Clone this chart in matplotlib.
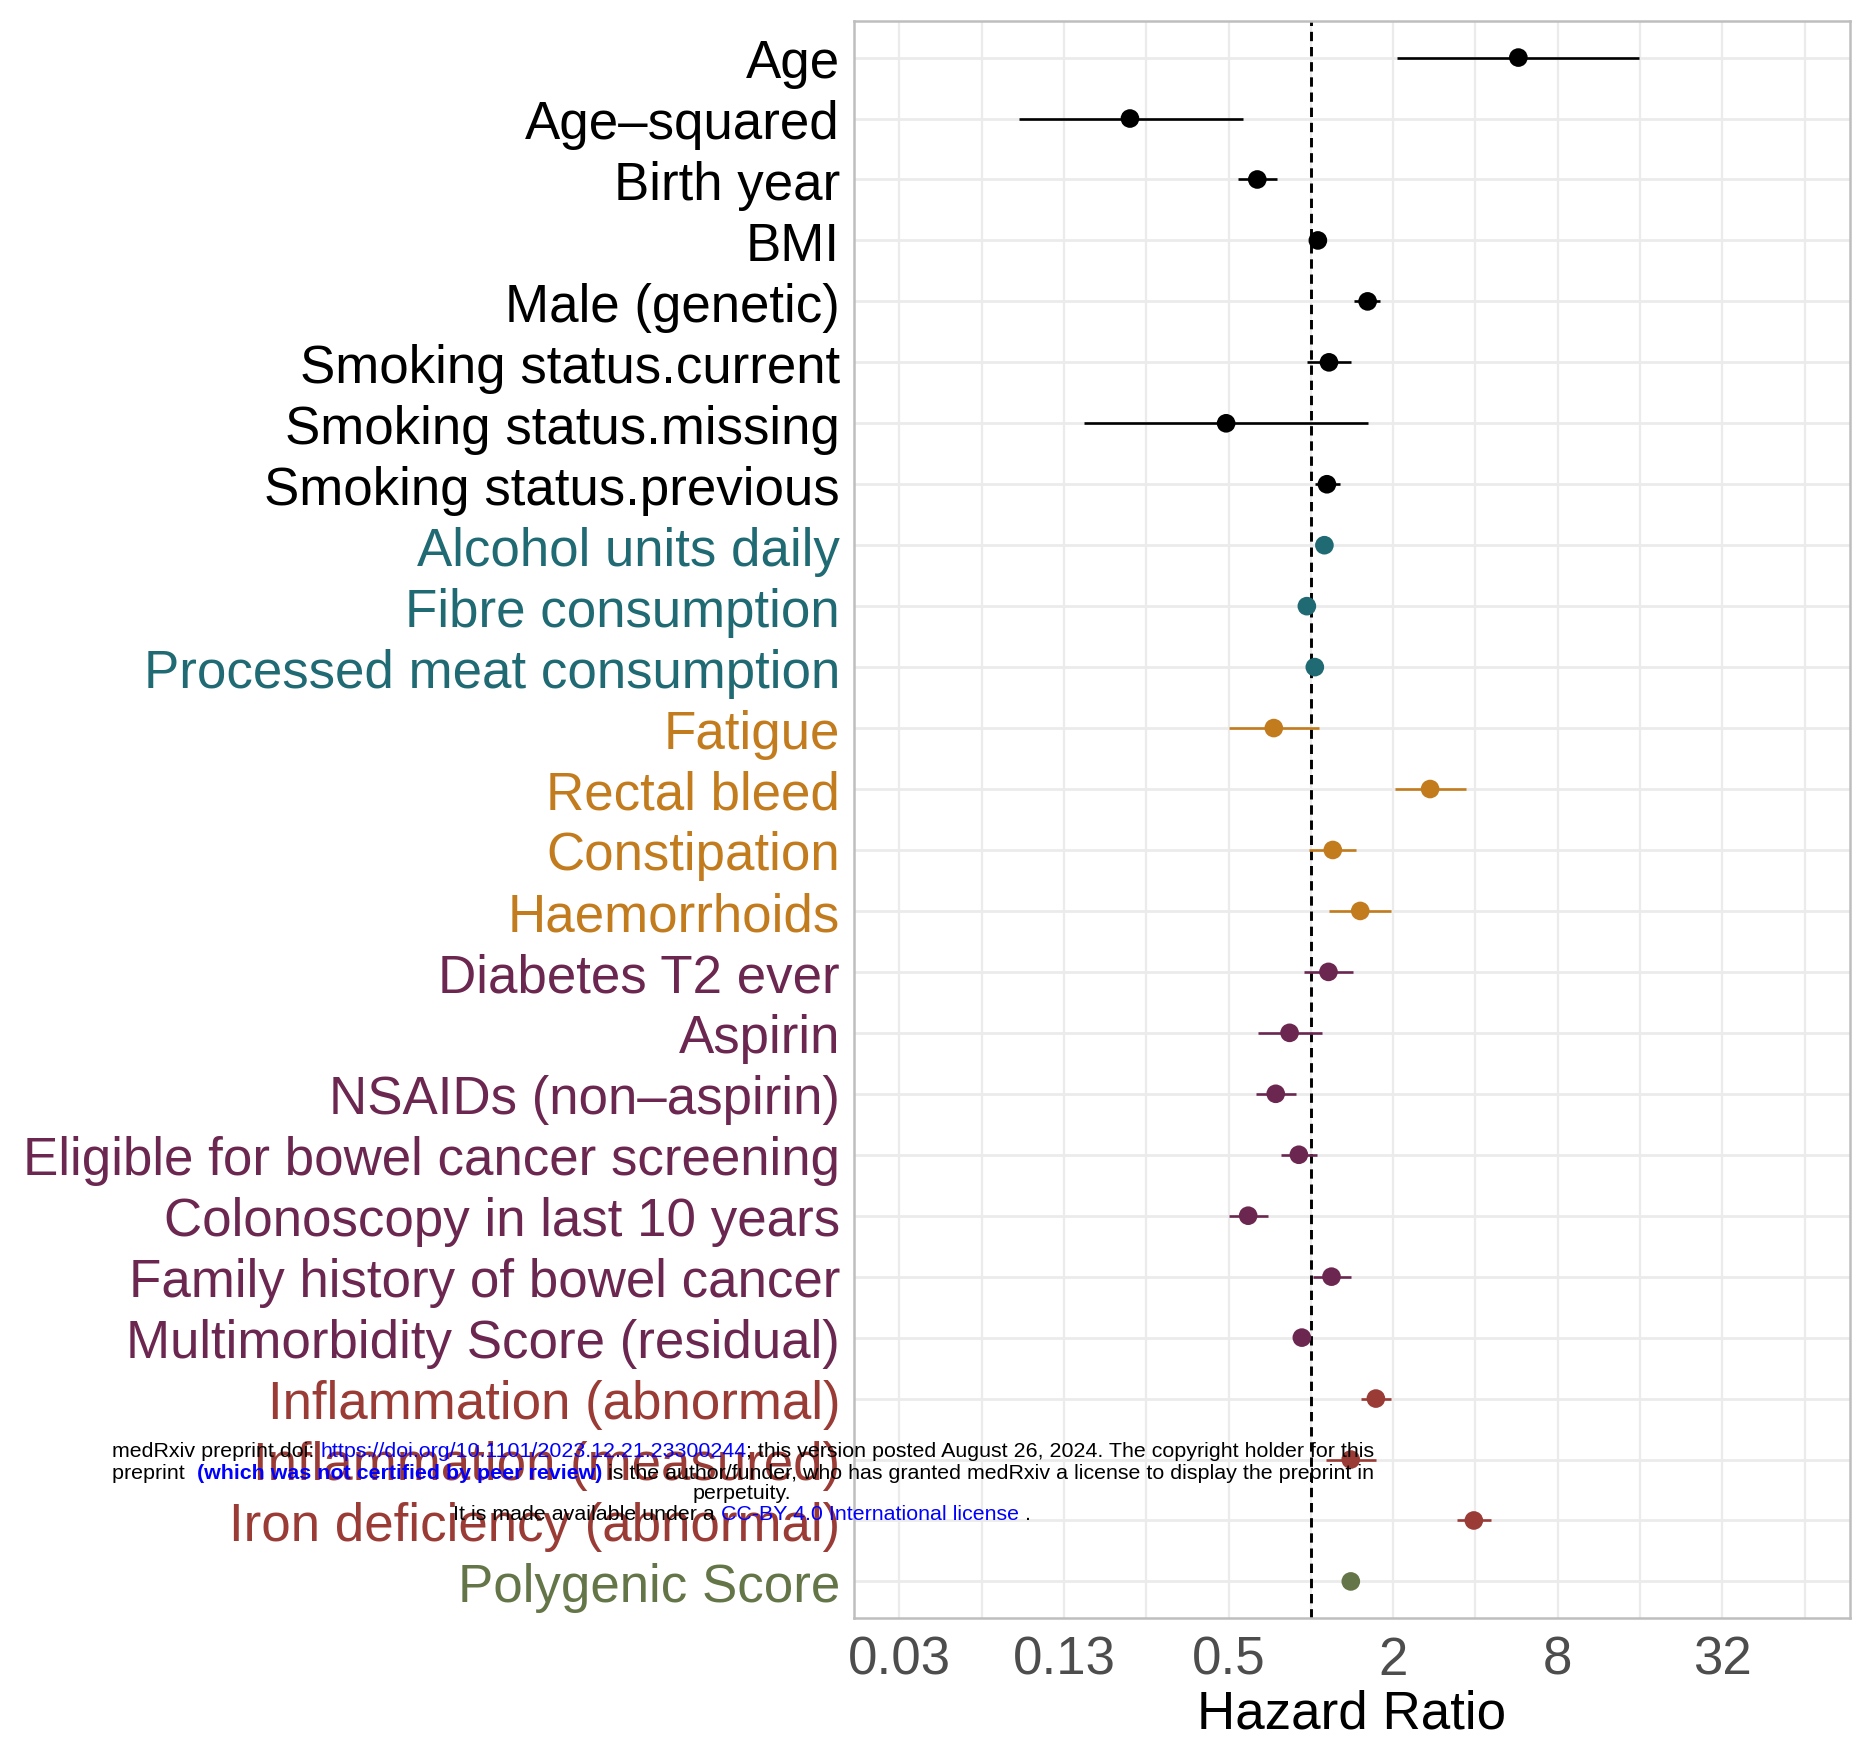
import numpy as np
import matplotlib.pyplot as plt

plt.rcParams['font.family'] = ['Liberation Sans', 'DejaVu Sans']

# covariates, top to bottom
labels = ['Age', 'Age\u2013squared', 'Birth year', 'BMI', 'Male (genetic)',
          'Smoking status.current', 'Smoking status.missing', 'Smoking status.previous',
          'Alcohol units daily', 'Fibre consumption', 'Processed meat consumption',
          'Fatigue', 'Rectal bleed', 'Constipation', 'Haemorrhoids',
          'Diabetes T2 ever', 'Aspirin', 'NSAIDs (non\u2013aspirin)',
          'Eligible for bowel cancer screening', 'Colonoscopy in last 10 years',
          'Family history of bowel cancer', 'Multimorbidity Score (residual)',
          'Inflammation (abnormal)', 'Inflammation (measured)', 'Iron deficiency (abnormal)',
          'Polygenic Score']

hr = [5.74, 0.218, 0.637, 1.061, 1.613, 1.165, 0.49, 1.145,
      1.121, 0.967, 1.034,
      0.732, 2.73, 1.203, 1.516,
      1.16, 0.836, 0.744, 0.904, 0.59, 1.19, 0.927,
      1.729, 1.399, 3.945,
      1.40]
hr_lo = [2.07, 0.0854, 0.543, 1.04, 1.434, 0.966, 0.148, 1.035,
         1.10, 0.95, 1.015,
         0.50, 2.03, 0.986, 1.17,
         0.946, 0.639, 0.631, 0.775, 0.503, 1.017, 0.915,
         1.529, 1.133, 3.42,
         1.38]
hr_hi = [15.9, 0.563, 0.753, 1.08, 1.79, 1.404, 1.625, 1.283,
         1.14, 0.985, 1.05,
         1.067, 3.68, 1.466, 1.967,
         1.422, 1.10, 0.88, 1.052, 0.695, 1.399, 0.94,
         1.956, 1.734, 4.56,
         1.42]

groups = ['base'] * 8 + ['diet'] * 3 + ['symptom'] * 4 + ['clinical'] * 7 + ['blood'] * 3 + ['genetic']
group_colours = {'base': '#000000', 'diet': '#206A74', 'symptom': '#C27C1E',
                 'clinical': '#6B2750', 'blood': '#9A3B36', 'genetic': '#647548'}

x_breaks = [2.0 ** k for k in (-5, -3, -1, 1, 3, 5)]
x_break_labels = ['0.03', '0.13', '0.5', '2', '8', '32']
x_minor = [2.0 ** k for k in (-4, -2, 0, 2, 4, 6)]

W, H, DPI = 1853, 1740, 100
fig = plt.figure(figsize=(W / DPI, H / DPI), dpi=DPI)
ax = fig.add_axes([854 / W, 1 - 1619 / H, (1850 - 854) / W, (1619 - 22) / H])

y = np.arange(len(labels))
cols = [group_colours[g] for g in groups]

ax.set_xscale('log', base=2)
ax.set_xlim(2 ** -5.55, 2 ** 6.55)
ax.set_ylim(len(labels) - 1 + 0.6, -0.6)

ax.set_axisbelow(True)
ax.set_xticks(x_breaks)
ax.set_xticklabels(x_break_labels)
ax.set_xticks(x_minor, minor=True)
ax.set_xticklabels([], minor=True)
ax.set_yticks(y)
ax.set_yticklabels(labels)
ax.grid(which='both', axis='x', color='#EBEBEB', lw=1.6)
ax.grid(which='major', axis='y', color='#EBEBEB', lw=2.0)
ax.tick_params(which='both', length=0)
ax.tick_params(axis='y', labelsize=38.1, pad=10)
ax.tick_params(axis='x', labelsize=38.1, labelcolor='#4D4D4D', pad=12)
for lab, c in zip(ax.get_yticklabels(), cols):
    lab.set_color(c)
for sp in ax.spines.values():
    sp.set_color('#BEBEBE')
    sp.set_linewidth(1.8)

ax.axvline(1, color='black', lw=2.1, ls=(0, (3.2, 2.0)), zorder=2)
ax.hlines(y, hr_lo, hr_hi, colors=cols, lw=1.9, zorder=3)
ax.scatter(hr, y, s=180, c=cols, zorder=4, linewidths=0)
ax.set_xlabel('Hazard Ratio', fontsize=38.1, labelpad=3)

# medRxiv watermark overlay
renderer = fig.canvas.get_renderer()
WM_SIZE = 15.4


def text_width(s, weight='normal'):
    t = fig.text(0, 0, s + '|', fontsize=WM_SIZE, weight=weight)
    b = fig.text(0, 0, '|', fontsize=WM_SIZE, weight=weight)
    w = t.get_window_extent(renderer).width - b.get_window_extent(renderer).width
    t.remove()
    b.remove()
    return w


def draw_line(pieces, x, baseline, centre=False):
    widths = [text_width(s, wt) for s, c, wt in pieces]
    if centre:
        x = x - sum(widths) / 2
    for (s, c, wt), w in zip(pieces, widths):
        fig.text(x / W, 1 - baseline / H, s, fontsize=WM_SIZE, color=c, weight=wt,
                 ha='left', va='baseline', zorder=10)
        x += w


blue = '#0000FF'
draw_line([('medRxiv preprint doi: ', 'black', 'normal'),
           ('https://doi.org/10.1101/2023.12.21.23300244', blue, 'normal'),
           ('; this version posted August 26, 2024. The copyright holder for this', 'black', 'normal')],
          112, 1457)
draw_line([('preprint  ', 'black', 'normal'),
           ('(which was not certified by peer review)', blue, 'bold'),
           (' is the author/funder, who has granted medRxiv a license to display the preprint in', 'black', 'normal')],
          112, 1479)
draw_line([('perpetuity.', 'black', 'normal')], 742, 1499, centre=True)
draw_line([('It is made available under a ', 'black', 'normal'),
           ('CC-BY 4.0 International license', blue, 'normal'),
           (' .', 'black', 'normal')],
          742, 1520, centre=True)

fig.savefig('out.png', dpi=DPI)
